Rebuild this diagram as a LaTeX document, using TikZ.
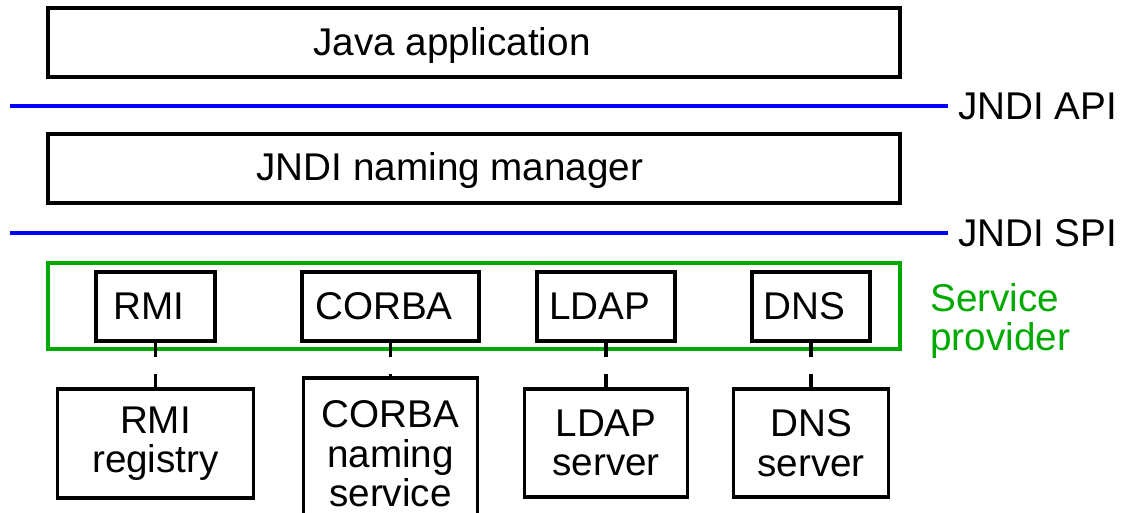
\documentclass[tikz,border=0pt]{standalone}
\usepackage{fontspec}
\setmainfont{Liberation Sans}
\usetikzlibrary{positioning}
\definecolor{apiblue}{RGB}{0,0,255}
\definecolor{spgreen}{RGB}{0,170,0}
\tikzset{
  layer/.style   = {draw, line width=1.9pt, minimum width=17.04cm, minimum height=1.38cm, inner sep=0pt},
  prov/.style    = {draw, line width=1.9pt, minimum height=1.38cm, inner sep=0pt,
                    execute at end node=\hspace*{0.26cm}},
  server/.style  = {draw, line width=1.9pt, align=center, inner sep=0pt},
  frame/.style   = {draw=spgreen, line width=1.8pt, minimum width=17.04cm, minimum height=1.72cm, inner sep=0pt},
  iface/.style   = {apiblue, line width=1.8pt},
  ifacelbl/.style= {anchor=west, inner xsep=0.2cm, inner ysep=0pt},
  link/.style    = {line width=1.9pt, dash pattern=on 0.29cm off 0.33cm},
}

\begin{document}
\begin{tikzpicture}[every node/.style={font=\fontsize{22}{22.5}\selectfont}]
  \useasboundingbox (0,0) rectangle (22.5,10.26);
  % layers
  \node[layer, label={[xshift=-0.44cm, yshift=-0.06cm]center:Java application}] (app) at (9.48,9.41) {};
  \node[layer, label={[xshift=-0.48cm, yshift=-0.04cm]center:JNDI naming manager}] (mgr) at (9.48,6.89) {};
  % interface lines
  \coordinate (apistart) at (0.2,8.14);
  \node[ifacelbl] (api) at (18.96,8.14) {JNDI API};
  \draw[iface] (apistart) -- (api.west);
  \coordinate (spistart) at (0.2,5.6);
  \node[ifacelbl] (spi) at (18.96,5.6) {JNDI SPI};
  \draw[iface] (spistart) -- (spi.west);
  % service providers
  \node[frame] (sp) at (9.48,4.14) {};
  \node[spgreen, align=left, anchor=west, inner sep=0pt] (splbl) at (18.6,3.84) {Service\\provider};
  \node[prov, minimum width=2.38cm] (rmi)   at (3.11,4.13)  {RMI};
  \node[prov, minimum width=3.54cm] (corba) at (7.81,4.13)  {CORBA};
  \node[prov, minimum width=2.76cm] (ldap)  at (12.12,4.13) {LDAP};
  \node[prov, minimum width=2.36cm] (dns)   at (16.22,4.13) {DNS};
  % servers
  \node[server, minimum width=3.92cm, minimum height=2.18cm] (rmisrv)   at (3.11,1.39)  {RMI\\registry};
  \node[server, minimum width=3.48cm, minimum height=3.04cm] (corbasrv) at (7.81,1.18)  {CORBA\\naming\\service};
  \node[server, minimum width=3.26cm, minimum height=2.16cm] (ldapsrv)  at (12.12,1.4)  {LDAP\\server};
  \node[server, minimum width=3.1cm,  minimum height=2.16cm] (dnssrv)   at (16.22,1.4)  {DNS\\server};
  \draw[link] (rmi) -- (rmisrv);
  \draw[link] (corba) -- (corbasrv);
  \draw[link] (ldap) -- (ldapsrv);
  \draw[link] (dns) -- (dnssrv);
\end{tikzpicture}
\end{document}
